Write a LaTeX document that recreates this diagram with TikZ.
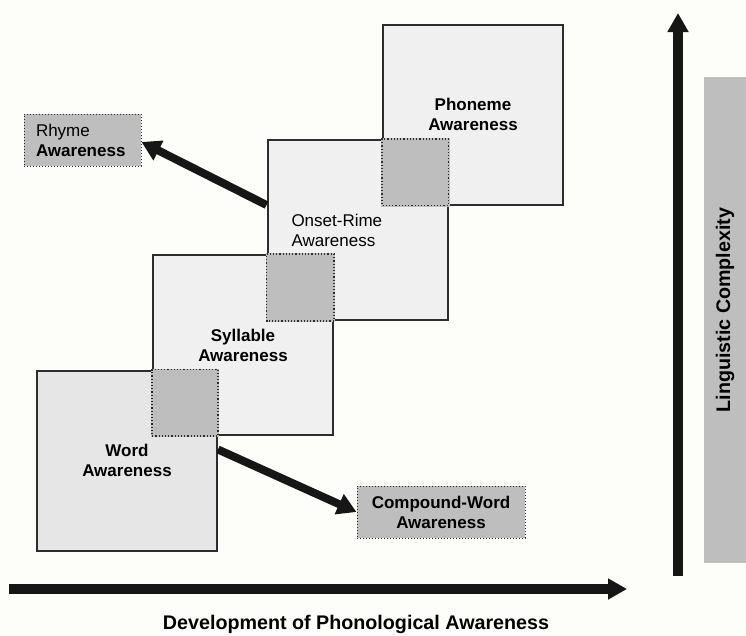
\documentclass[tikz,border=0pt]{standalone}
\usepackage{fontspec}
\setmainfont{Liberation Sans}
\usetikzlibrary{arrows.meta,calc}
\definecolor{bgcol}{RGB}{253,253,249}
\definecolor{boxfill}{RGB}{240,240,240}
\definecolor{wordfill}{RGB}{230,230,230}
\definecolor{ovfill}{RGB}{190,190,190}
\definecolor{edge}{RGB}{45,45,45}
\definecolor{arrowcol}{RGB}{22,22,22}
\tikzset{
  stagebox/.style={draw=edge, line width=2pt, fill=boxfill, minimum width=180pt, minimum height=180pt, inner sep=0pt, align=center, font=\fontsize{17}{20}\selectfont\bfseries},
  sidebox/.style={draw=edge, line width=1pt, dotted, fill=ovfill, minimum height=52pt, inner sep=0pt, font=\fontsize{17}{20}\selectfont},
  ovbox/.style={draw=edge, line width=1.2pt, dotted},
  bigarrow/.style={draw=arrowcol, line width=8pt, -{Triangle[length=19pt,width=21pt]}},
  axisarrow/.style={draw=arrowcol, line width=10pt, -{Triangle[length=19pt,width=20pt]}},
}
\begin{document}
\begin{tikzpicture}[x=1pt,y=-1pt]
\fill[bgcol] (0,0) rectangle (746,635);
\useasboundingbox (0,0) rectangle (746,635);

% stage boxes
\node[stagebox, fill=wordfill] (word) at (127,460.5) {Word\\Awareness};
\node[stagebox] (syl) at (243,345) {Syllable\\Awareness};
\node[stagebox, font=\fontsize{17}{20}\selectfont, text width=132pt, inner xsep=24pt, align=left] (onset) at (357.5,230) {Onset-Rime\\Awareness};
\node[stagebox] (phon) at (473,114.5) {Phoneme\\Awareness};

% overlaps
\fill[ovfill] ([shift={(1pt,1pt)}]word.north east) rectangle ([shift={(-1pt,-1pt)}]syl.south west);
\draw[ovbox] (word.north east) rectangle (syl.south west);
\fill[ovfill] ([shift={(1pt,1pt)}]syl.north east) rectangle ([shift={(-1pt,-1pt)}]onset.south west);
\draw[ovbox] (syl.north east) rectangle (onset.south west);
\fill[ovfill] ([shift={(1pt,1pt)}]onset.north east) rectangle ([shift={(-1pt,-1pt)}]phon.south west);
\draw[ovbox] (onset.north east) rectangle (phon.south west);

% side boxes
\node[sidebox, minimum width=117pt, text width=93pt, inner xsep=12pt, align=left] (rhyme) at (82.5,140) {Rhyme\\\textbf{Awareness}};
\node[sidebox, minimum width=168pt, align=center, font=\fontsize{17}{20}\selectfont\bfseries] (compound) at (441,512) {Compound-Word\\Awareness};

% arrows
\draw[bigarrow] ([yshift=25pt]onset.west) -- ([yshift=-2pt]rhyme.east);
\draw[bigarrow] ([yshift=11pt]word.east) -- (compound.west);

% axes
\coordinate (hstart) at (9,589);
\coordinate (hend) at (627,589);
\draw[axisarrow] (hstart) -- (hend);
\node[anchor=base, font=\fontsize{19.7}{22}\selectfont\bfseries] (xlabel) at (356,629) {Development of Phonological Awareness};

\coordinate (vstart) at (678,576);
\coordinate (vend) at (678,13);
\draw[axisarrow] (vstart) -- (vend);

\node[fill=ovfill, minimum width=42pt, minimum height=486pt, inner sep=0pt] (bar) at (725,320) {};
\node[rotate=90, font=\fontsize{19.7}{22}\selectfont\bfseries] (ylabel) at (725,310) {Linguistic Complexity};
\end{tikzpicture}
\end{document}
